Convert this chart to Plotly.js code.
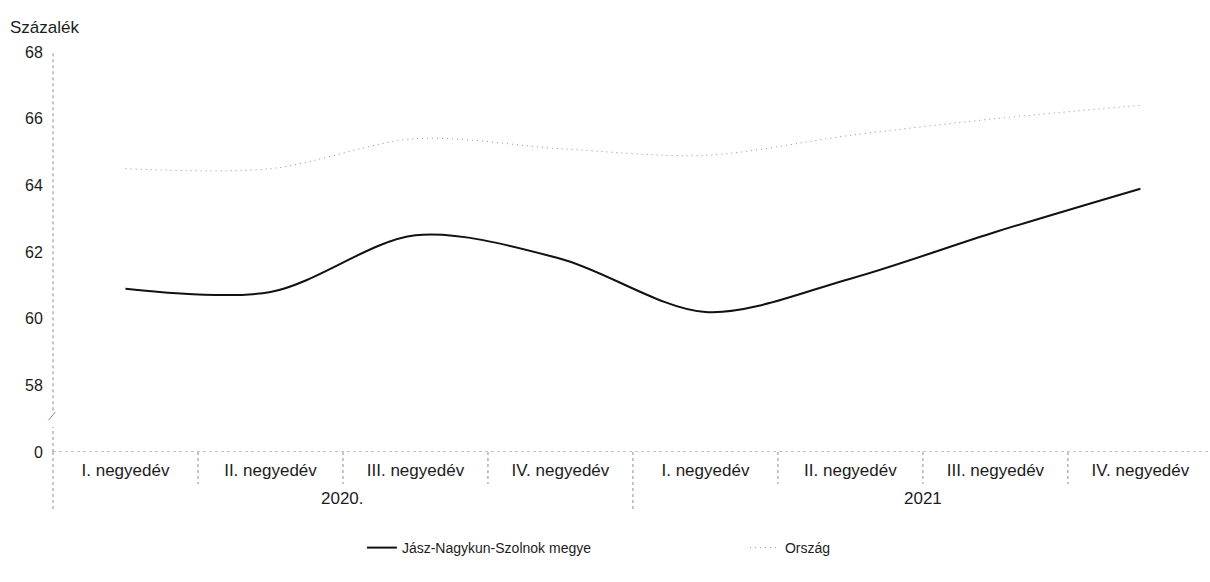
<!DOCTYPE html>
<html>
<head>
<meta charset="utf-8">
<script src="https://cdn.plot.ly/plotly-3.0.1.min.js"></script>
<style>html,body{margin:0;padding:0;background:#fff;}#chart{width:1210px;height:582px;}</style>
</head>
<body>
<div id="chart"></div>
<script>
// ---- data ----
var quarters = ["I. negyedév","II. negyedév","III. negyedév","IV. negyedév","I. negyedév","II. negyedév","III. negyedév","IV. negyedév"];
var years = ["2020.","2021"];
var yearCenters = [1.5, 5.5];
var xIdx = [0,1,2,3,4,5,6,7];
var jnsz = [60.9, 60.8, 62.5, 61.8, 60.2, 61.2, 62.6, 63.9];
var orszag = [64.5, 64.5, 65.4, 65.1, 64.9, 65.5, 66.0, 66.4];
var yTickVals = [56,58,60,62,64,66,68];
var yTickText = ["0","58","60","62","64","66","68"];
var seriesNames = ["Jász-Nagykun-Szolnok megye","Ország"];
var yTitle = "Százalék";

var FONT = "Liberation Sans, Arial, sans-serif";
var TXT = "#1c1c1c";
var AX = "#8c8c8c";

var traces = [
  {x: xIdx, y: jnsz, name: seriesNames[0], type: "scatter", mode: "lines",
   line: {color: "#111111", width: 2, shape: "spline", smoothing: 0.9}},
  {x: xIdx, y: orszag, name: seriesNames[1], type: "scatter", mode: "lines",
   line: {color: "#8f8f8f", width: 1, dash: "1px,4px", shape: "spline", smoothing: 0.9}}
];

var shapes = [];
// x axis line (dotted)
shapes.push({type:"line", xref:"paper", yref:"y", x0:0, x1:1, y0:56, y1:56, line:{color:AX, width:1, dash:"dot"}});
// y axis line with break
shapes.push({type:"line", xref:"paper", yref:"y", x0:0, x1:0, y0:57.25, y1:68.15, line:{color:AX, width:1, dash:"dot"}});
shapes.push({type:"line", xref:"paper", yref:"y", x0:-0.004, x1:0.002, y0:56.95, y1:57.2, line:{color:AX, width:1}});
shapes.push({type:"line", xref:"paper", yref:"y", x0:0, x1:0, y0:56, y1:56.75, line:{color:AX, width:1, dash:"dot"}});
// left border of label area
shapes.push({type:"line", xref:"paper", yref:"paper", x0:0, x1:0, y0:0, y1:-0.15, line:{color:AX, width:1, dash:"dot"}});
// quarter dividers and year divider
for (var i = 0; i < quarters.length - 1; i++) {
  var isYear = (i === 3);
  shapes.push({type:"line", xref:"x", yref:"paper", x0:i+0.5, x1:i+0.5, y0:0, y1:isYear ? -0.15 : -0.08,
               line:{color:AX, width:1, dash:"dot"}});
}

var annotations = [];
annotations.push({text: yTitle, xref:"paper", yref:"paper", x:-0.039, y:1.0625, xanchor:"left", yanchor:"middle",
                  showarrow:false, font:{family:FONT, size:17, color:TXT}});
for (var j = 0; j < years.length; j++) {
  annotations.push({text: years[j], xref:"x", yref:"paper", x: yearCenters[j], y:-0.115, xanchor:"center", yanchor:"middle",
                    showarrow:false, font:{family:FONT, size:17, color:TXT}});
}

var layout = {
  width: 1210, height: 582,
  margin: {l:53, r:0, t:52, b:130},
  paper_bgcolor: "#ffffff", plot_bgcolor: "#ffffff",
  font: {family: FONT, color: TXT, size: 15},
  showlegend: true,
  legend: {orientation:"h", x:0.267, xanchor:"left", y:-0.24, yanchor:"middle",
           font:{family:FONT, size:14, color:TXT}, entrywidth:338, entrywidthmode:"pixels",
           itemwidth:30, bgcolor:"rgba(0,0,0,0)"},
  xaxis: {range:[-0.5,7.48], tickvals:xIdx, ticktext:quarters, showgrid:false, zeroline:false, showline:false,
          ticks:"outside", ticklen:3, tickcolor:"rgba(0,0,0,0)", tickfont:{family:FONT, size:17, color:TXT}, fixedrange:true},
  yaxis: {range:[56,68], tickvals:yTickVals, ticktext:yTickText, showgrid:false, zeroline:false, showline:false,
          ticks:"outside", ticklen:6, tickcolor:"rgba(0,0,0,0)", tickfont:{family:FONT, size:16, color:TXT}, fixedrange:true},
  shapes: shapes,
  annotations: annotations
};

Plotly.newPlot("chart", traces, layout, {staticPlot:true, displayModeBar:false});
</script>
</body>
</html>
